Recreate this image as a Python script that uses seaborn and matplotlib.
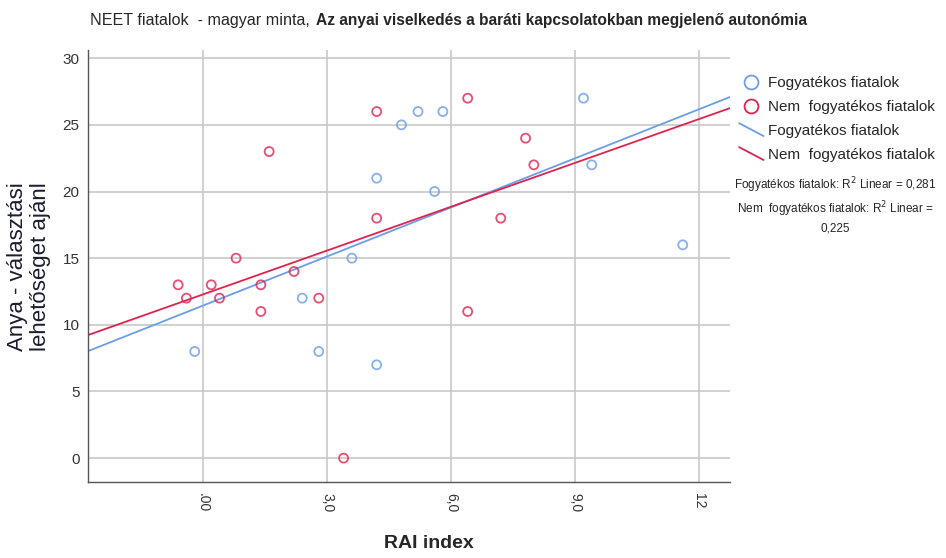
"""Scatter with linear fits: RAI index vs. 'Anya - választási lehetőséget ajánl'."""
import matplotlib
matplotlib.use("Agg")
import matplotlib.pyplot as plt
from matplotlib.lines import Line2D
from matplotlib.legend_handler import HandlerBase
import pandas as pd
import seaborn as sns

GROUPS = ["Fogyatékos fiatalok", "Nem  fogyatékos fiatalok"]
COLORS = {GROUPS[0]: "#6a9ee8", GROUPS[1]: "#e0234e"}

# Fogyatékos fiatalok
blue_x = [-0.2, 2.4, 2.8, 3.6, 4.2, 4.2, 4.8, 5.2, 5.6, 5.8, 9.2, 9.4, 11.6]
blue_y = [8, 12, 8, 15, 21, 7, 25, 26, 20, 26, 27, 22, 16]
# Nem fogyatékos fiatalok
red_x = [-0.6, -0.4, 0.2, 0.4, 0.8, 1.4, 1.4, 1.6, 2.2, 2.8, 3.4, 4.2, 4.2,
         6.4, 6.4, 7.2, 7.8, 8.0]
red_y = [13, 12, 13, 12, 15, 13, 11, 23, 14, 12, 0, 26, 18, 27, 11, 18, 24, 22]

x_ticks = [0, 3, 6, 9, 12]
x_ticklabels = [".00", "3,0", "6,0", "9,0", "12"]
y_ticks = [0, 5, 10, 15, 20, 25, 30]

df = pd.concat([
    pd.DataFrame({"rai": blue_x, "anya": blue_y, "group": GROUPS[0]}),
    pd.DataFrame({"rai": red_x, "anya": red_y, "group": GROUPS[1]}),
])


class DiagonalLine(HandlerBase):
    # fit-line legend keys drawn as a short descending stroke
    def create_artists(self, legend, orig, xdescent, ydescent, width, height, fontsize, trans):
        line = Line2D([-xdescent, width - xdescent], [height * 1.1 - ydescent, -0.1 * height - ydescent],
                      color=orig.get_color(), linewidth=orig.get_linewidth(), transform=trans)
        return [line]


sns.set_style("white")
plt.rcParams["font.family"] = ["Liberation Sans", "DejaVu Sans"]

fig = plt.figure(figsize=(9.46, 5.58), dpi=100)
ax = fig.add_axes([0.093, 0.136, 0.679, 0.774])
ax.set_xlim(-2.78, 12.75)
ax.set_ylim(-1.8, 30.6)

for g in GROUPS:
    sub = df[df["group"] == g]
    sns.regplot(
        data=sub, x="rai", y="anya", ax=ax, ci=None, truncate=False,
        color=COLORS[g],
        scatter_kws={"s": 42, "facecolors": "none", "linewidths": 1.3, "zorder": 3},
        line_kws={"linewidth": 1.3, "zorder": 2},
    )

ax.set_xticks(x_ticks)
ax.set_xticklabels(x_ticklabels, rotation=-90, fontsize=10, color="#333333")
ax.set_yticks(y_ticks)
ax.tick_params(axis="y", labelsize=11, colors="#333333", length=0, pad=6)
ax.tick_params(axis="x", length=0, pad=8)
ax.grid(True, color="#c8c8c8", linewidth=1.2)
ax.set_axisbelow(True)
for side in ["top", "right"]:
    ax.spines[side].set_visible(False)
for side in ["left", "bottom"]:
    ax.spines[side].set_color("#555555")
    ax.spines[side].set_linewidth(1.0)

ax.set_xlabel("RAI index", fontsize=14, fontweight="bold")
ax.xaxis.set_label_coords(0.53, -0.123)
ax.set_ylabel("Anya - választási\nlehetőséget ajánl", fontsize=16, color="#1c1c30",
              linespacing=1.1)
ax.yaxis.set_label_coords(-0.058, 0.5)

# title in two parts, second part bold right after the first
t1 = fig.text(90 / 946, 1 - 20 / 558, "NEET fiatalok  - magyar minta,",
              fontsize=11.6, va="center", ha="left")
fig.canvas.draw()
x1 = t1.get_window_extent().x1
fig.text((x1 + 6) / 946, 1 - 20 / 558,
         "Az anyai viselkedés a baráti kapcsolatokban megjelenő autonómia",
         fontsize=11.2, fontweight="bold", va="center", ha="left")

handles = [
    Line2D([], [], marker="o", linestyle="none", markersize=10, markerfacecolor="none",
           markeredgecolor=COLORS[GROUPS[0]], markeredgewidth=1.3),
    Line2D([], [], marker="o", linestyle="none", markersize=10, markerfacecolor="none",
           markeredgecolor=COLORS[GROUPS[1]], markeredgewidth=1.3),
    Line2D([], [], color=COLORS[GROUPS[0]], linewidth=1.3),
    Line2D([], [], color=COLORS[GROUPS[1]], linewidth=1.3),
]
fig.legend(handles, GROUPS + GROUPS, loc="upper left", bbox_to_anchor=(733 / 946, 1 - 70 / 558),
           frameon=False, fontsize=11, handlelength=1.6, handletextpad=0.3,
           labelspacing=0.65, borderaxespad=0,
           handler_map={handles[2]: DiagonalLine(), handles[3]: DiagonalLine()})

fig.text(835 / 946, 1 - 205 / 558,
         "Fogyatékos fiatalok: R$^2$ Linear = 0,281\nNem  fogyatékos fiatalok: R$^2$ Linear =\n0,225",
         fontsize=8.5, ha="center", va="center", linespacing=1.35)

fig.savefig("out.png", dpi=100)
